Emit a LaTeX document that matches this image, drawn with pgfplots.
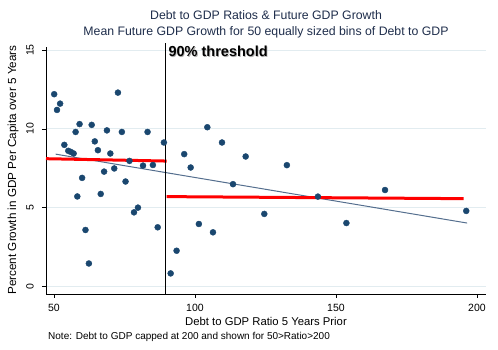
\documentclass[border=0pt]{standalone}
\usepackage{pgfplots}
\pgfplotsset{compat=1.18}
\usepackage{fontspec}
\setmainfont{Liberation Sans}
\definecolor{stnavy}{RGB}{26,71,111}
\definecolor{fitblue}{RGB}{84,110,142}
\definecolor{titlecol}{RGB}{30,45,75}
\definecolor{gridcol}{RGB}{226,236,240}
\begin{document}
\begin{tikzpicture}
\useasboundingbox (0,0) rectangle (498bp,350bp);
\begin{axis}[
  at={(46bp,56bp)}, anchor=south west,
  scale only axis, width=440bp, height=247bp,
  xmin=47.2, xmax=203.2, ymin=-0.5, ymax=15.2,
  axis x line*=bottom, axis y line*=left,
  axis line style={-, black, line width=0.7bp},
  xtick={50,100,150,200}, ytick={0,5,10,15},
  tick align=outside, major tick length=4bp,
  tick style={black, line width=0.6bp},
  ymajorgrids, grid style={gridcol, line width=0.8bp},
  /pgf/number format/assume math mode=true,
  ticklabel style={font=\fontsize{10.5bp}{12bp}\selectfont},
  xticklabel shift=3bp,
  yticklabel style={rotate=90, anchor=south, inner sep=0pt},
  yticklabel shift=8bp,
  clip=false,
]
% fitted line
\addplot[fitblue, line width=1bp] coordinates {(50.6,8.39) (196.5,4.01)};
% red means
\addplot[red, line width=3bp] coordinates {(47.2,8.1) (90,7.95)};
\addplot[red, line width=3bp] coordinates {(90,5.69) (195.3,5.56)};
% threshold
\addplot[black, line width=1.2bp] coordinates {(89.6,-0.5) (89.6,15.45)};
% points
\addplot[only marks, mark=*, mark size=3bp, mark options={stnavy, fill=stnavy}] table {
x y
50.1 12.2
51.1 11.2
52.2 11.6
53.7 8.98
55.1 8.6
56.0 8.53
57.0 8.43
57.7 9.8
59.1 10.3
58.3 5.7
60.0 6.88
61.2 3.57
62.4 1.44
63.4 10.25
64.5 9.2
65.6 8.64
66.6 5.86
67.8 7.28
68.8 9.9
70.0 8.43
71.4 7.48
72.7 12.3
74.1 9.8
75.4 6.65
76.8 7.96
78.4 4.69
79.8 4.99
81.6 7.66
83.2 9.8
85.1 7.7
86.8 3.74
89.0 9.13
91.4 0.81
93.5 2.25
96.2 8.39
98.5 7.54
101.4 3.95
104.4 10.1
106.4 3.42
109.6 9.13
113.5 6.48
118.0 8.24
124.6 4.59
132.6 7.69
143.6 5.69
153.7 4.01
167.4 6.11
196.2 4.78
};
\node[anchor=north west, inner sep=0pt, text=gray!60, font=\fontsize{14.5bp}{16bp}\selectfont\bfseries] at (axis cs:90.6,15.25) [xshift=0.8bp, yshift=-0.8bp] {90\% threshold};
\node[anchor=north west, inner sep=0pt, font=\fontsize{14.5bp}{16bp}\selectfont\bfseries] at (axis cs:90.6,15.25) {90\% threshold};
\end{axis}
\node[text=titlecol, font=\fontsize{12.3bp}{14bp}\selectfont] at (266bp,335bp) {Debt to GDP Ratios \& Future GDP Growth};
\node[text=titlecol, font=\fontsize{12.3bp}{14bp}\selectfont] at (266bp,318bp) {Mean Future GDP Growth for 50 equally sized bins of Debt to GDP};
\node[font=\fontsize{11.3bp}{13bp}\selectfont] at (266bp,29bp) {Debt to GDP Ratio 5 Years Prior};
\node[font=\fontsize{11.7bp}{13bp}\selectfont, rotate=90] at (13bp,180bp) {Percent Growth in GDP Per Capita over 5 Years};
\node[anchor=west, inner sep=0pt, font=\fontsize{10bp}{11bp}\selectfont] at (48bp,13bp) {Note: Debt to GDP capped at 200 and shown for 50>Ratio>200};
\end{tikzpicture}
\end{document}
